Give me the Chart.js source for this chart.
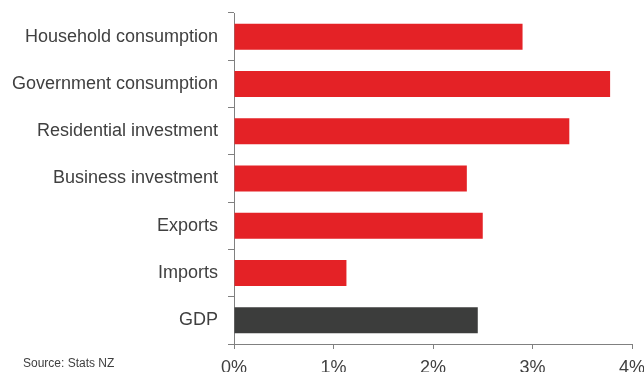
<!DOCTYPE html>
<html lang="en">
<head>
    <meta charset="UTF-8">
    <title>Contributions to growth</title>
    <script src="https://cdn.jsdelivr.net/npm/chart.js"></script>
    <style>
        html, body {
            margin: 0;
            padding: 0;
            width: 644px;
            height: 372px;
            overflow: hidden;
            background: #fff;
            font-family: 'Liberation Sans', Arial, sans-serif;
        }
        #wrap {
            position: relative;
            width: 670px;
            height: 390px;
        }
        #source {
            position: absolute;
            left: 23px;
            top: 356px;
            font-size: 12px;
            color: #404040;
        }
    </style>
</head>
<body>
    <div id="wrap">
        <canvas id="chart" width="670" height="390"></canvas>
        <div id="source">Source: Stats NZ</div>
    </div>

    <script>
        const categories = ['Household consumption', 'Government consumption', 'Residential investment',
                            'Business investment', 'Exports', 'Imports', 'GDP'];
        const growth = [2.90, 3.78, 3.37, 2.34, 2.50, 1.13, 2.45];
        const barColors = ['#e42226', '#e42226', '#e42226', '#e42226', '#e42226', '#e42226', '#3c3d3c'];
        const xTicks = [0, 1, 2, 3, 4];

        const textColor = '#404040';
        const axisColor = '#808080';

        new Chart(document.getElementById('chart'), {
            type: 'bar',
            data: {
                labels: categories,
                datasets: [{
                    data: growth,
                    backgroundColor: barColors,
                    borderWidth: 0,
                    barPercentage: 0.55,
                    categoryPercentage: 1
                }]
            },
            options: {
                indexAxis: 'y',
                responsive: false,
                animation: false,
                layout: { padding: { top: 13, right: 38, left: 0, bottom: 0 } },
                plugins: {
                    legend: { display: false },
                    tooltip: { enabled: false }
                },
                scales: {
                    x: {
                        min: 0,
                        max: 4,
                        afterBuildTicks: scale => {
                            scale.ticks = xTicks.map(v => ({ value: v }));
                        },
                        afterFit: scale => { scale.height = 46; },
                        border: { display: true, color: axisColor, width: 1 },
                        grid: {
                            drawOnChartArea: false,
                            drawTicks: true,
                            tickLength: 5,
                            color: axisColor
                        },
                        ticks: {
                            padding: 8,
                            color: textColor,
                            font: { family: "'Liberation Sans', Arial", size: 18 },
                            callback: v => v + '%'
                        }
                    },
                    y: {
                        afterFit: scale => {
                            scale.width = 234;
                            scale.paddingTop = 0;
                            scale.paddingBottom = 0;
                        },
                        border: { display: true, color: axisColor, width: 1 },
                        grid: {
                            drawOnChartArea: false,
                            drawTicks: true,
                            tickLength: 6,
                            offset: true,
                            color: axisColor
                        },
                        ticks: {
                            padding: 10,
                            color: textColor,
                            font: { family: "'Liberation Sans', Arial", size: 18 }
                        }
                    }
                }
            }
        });
    </script>
</body>
</html>
